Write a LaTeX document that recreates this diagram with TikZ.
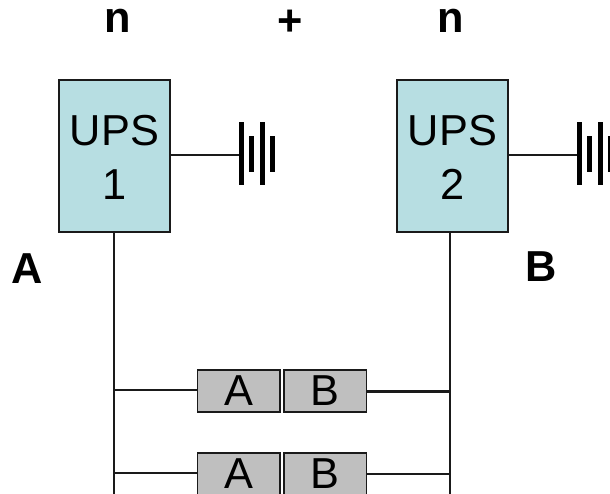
\documentclass[tikz,border=0pt]{standalone}
\usepackage{fontspec}
\setmainfont{Liberation Sans}
\definecolor{upsfill}{HTML}{B7DEE2}
\definecolor{unitfill}{HTML}{BFBFBF}
\definecolor{edge}{HTML}{1A1A1A}
\tikzset{
	upsbox/.style={draw=edge,fill=upsfill,line width=1.6pt,minimum width=83pt,minimum height=114pt,inner sep=0pt,align=center,font=\fontsize{32.5}{40.5}\selectfont},
	unitbox/.style={draw=edge,fill=unitfill,line width=1.4pt,minimum width=62pt,minimum height=31.5pt,inner sep=0pt,font=\fontsize{32.5}{36}\selectfont},
	biglabel/.style={inner sep=0pt,font=\fontsize{32.5}{36}\selectfont\bfseries},
	wire/.style={draw=edge,line width=1.8pt},
	plate/.style={line width=3.75pt,black}
}
\begin{document}
\begin{tikzpicture}[x=0.75pt,y=-0.75pt]
	\useasboundingbox (0,0) rectangle (610,493);
	\node[biglabel] (n1) at (118,21) {n};
	\node[biglabel] (plus) at (290,23) {+};
	\node[biglabel] (n2) at (451,21) {n};
	\node[biglabel] (labA) at (27,269) {A};
	\node[biglabel] (labB) at (541,267) {B};
	\coordinate (bus1) at (114,500);
	\coordinate (bus2) at (450,500);
	\coordinate (bat1) at (241,155);
	\coordinate (bat2) at (579,155);
	\draw[wire] (114,232) -- (bus1);
	\draw[wire] (450,232) -- (bus2);
	\node[upsbox,text depth=0pt] (ups1) at (114.5,156) {\raisebox{-2.25pt}{UPS}\\\raisebox{-2.25pt}{1}};
	\node[upsbox,text depth=0pt] (ups2) at (452.5,156) {\raisebox{-2.25pt}{UPS}\\\raisebox{-2.25pt}{2}};
	\draw[wire] (ups1.east |- bat1) -- (bat1);
	\draw[wire] (ups2.east |- bat2) -- (bat2);
	% battery plates
	\foreach \b in {bat1,bat2}{
		\draw[plate] ([yshift=24.75pt]\b) -- ([yshift=-22.5pt]\b);
		\draw[plate] ([xshift=7.9pt,yshift=14.25pt]\b) -- ([xshift=7.9pt,yshift=-12.75pt]\b);
		\draw[plate] ([xshift=16.1pt,yshift=24.75pt]\b) -- ([xshift=16.1pt,yshift=-22.5pt]\b);
		\draw[plate] ([xshift=23.6pt,yshift=14.25pt]\b) -- ([xshift=23.6pt,yshift=-12.75pt]\b);
	}
	% rows of units
	\node[unitbox] (a1) at (238.8,391) {\raisebox{-2.25pt}{A}};
	\node[unitbox] (b1) at (325.2,391) {\raisebox{-2.25pt}{B}};
	\node[unitbox] (a2) at (238.8,474) {\raisebox{-2.25pt}{A}};
	\node[unitbox] (b2) at (325.2,474) {\raisebox{-2.25pt}{B}};
	\draw[wire] (114,390) -- (a1.west |- 0,390);
	\draw[wire] (b1.east |- 0,391.5) -- (450,391.5);
	\draw[wire] (114,473) -- (a2.west |- 0,473);
	\draw[wire] (b2.east |- 0,474) -- (450,474);
\end{tikzpicture}
\end{document}
